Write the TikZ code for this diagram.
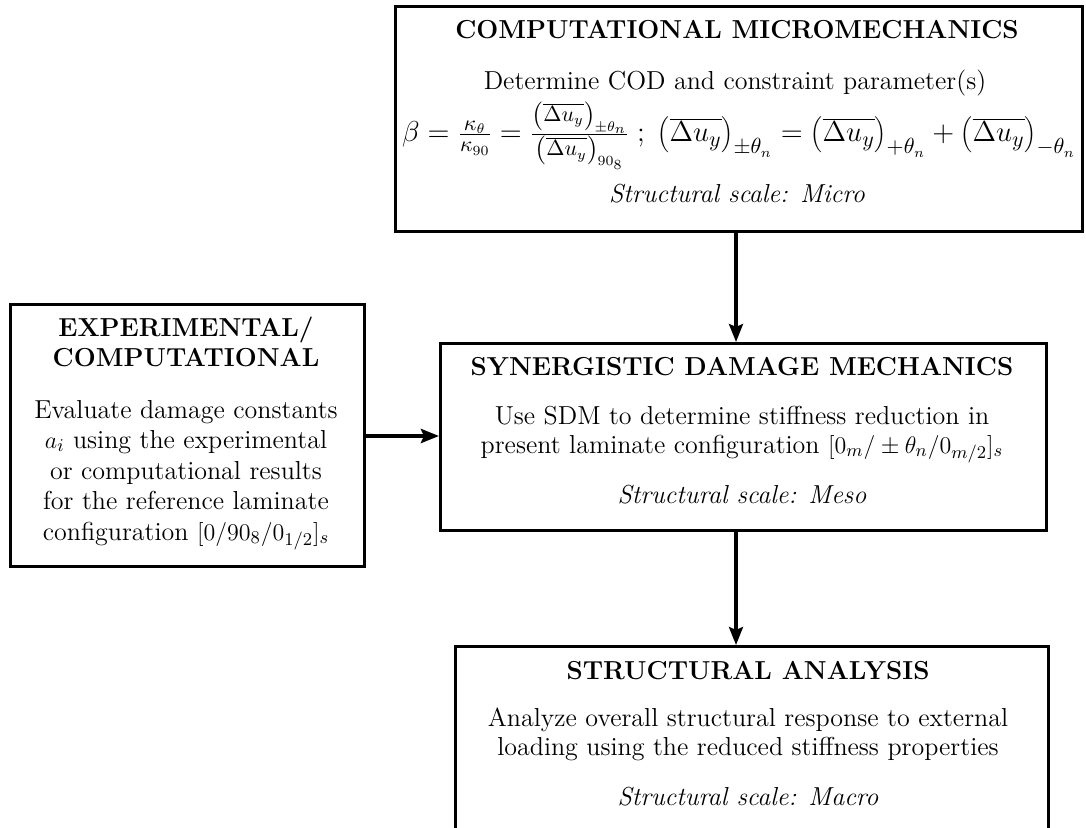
\documentclass[tikz,border=0pt]{standalone}
\usetikzlibrary{arrows.meta}
\begin{document}
\begin{tikzpicture}[x=0.5pt,y=-0.5pt,
  box/.style={draw,line width=1.3pt,inner sep=0pt,anchor=north west},
  arr/.style={line width=1.6pt,-{Stealth[length=9pt,width=7pt,inset=1.5pt]}},
  harr/.style={line width=2.4pt,-{Stealth[length=9pt,width=7pt,inset=1.5pt]}},
  ttl/.style={font=\fontsize{13}{15}\selectfont\bfseries,align=center,inner sep=0pt},
  txt/.style={font=\fontsize{13}{15}\selectfont,align=center,inner sep=0pt},
  eqn/.style={font=\fontsize{15}{17}\selectfont,inner sep=0pt}]
\useasboundingbox (0,0) rectangle (1086,828);
\clip (0,0) rectangle (1086,828);
% boxes
\node[box,minimum width=343.5pt,minimum height=112.5pt] (top) at (394,5) {};
\node[box,minimum width=177pt,minimum height=131pt] (left) at (9,303) {};
\node[box,minimum width=303pt,minimum height=93.5pt] (mid) at (439,342) {};
\node[box,minimum width=296.5pt,minimum height=100pt] (bot) at (454,645) {};
% top box text
\node[ttl,anchor=base] (t1) at (737,39) {COMPUTATIONAL MICROMECHANICS};
\node[txt,anchor=base] (t2) at (735,90) {Determine COD and constraint parameter(s)};
\node[eqn,anchor=base] (t3) at (739,142) {$\beta=\frac{\kappa_\theta}{\kappa_{90}}=\frac{\left(\overline{\Delta u_y}\right)_{\pm\theta_n}}{\left(\overline{\Delta u_y}\right)_{90_8}}\;;\;\left(\overline{\Delta u_y}\right)_{\pm\theta_n}=\left(\overline{\Delta u_y}\right)_{+\theta_n}+\left(\overline{\Delta u_y}\right)_{-\theta_n}$};
\node[txt,anchor=base] (t4) at (737,203) {\textit{Structural scale: Micro}};
% left box text
\node[ttl,anchor=base] (l1) at (186,336) {EXPERIMENTAL/};
\node[ttl,anchor=base] (l2) at (186,366) {COMPUTATIONAL};
\node[txt,anchor=base] (l3) at (186,418) {Evaluate damage constants};
\node[txt,anchor=base] (l4) at (186,448) {$a_i$ using the experimental};
\node[txt,anchor=base] (l5) at (186,479) {or computational results};
\node[txt,anchor=base] (l6) at (186,509) {for the reference laminate};
\node[txt,anchor=base] (l7) at (186,540) {configuration $[0/90_8/0_{1/2}]_s$};
% middle box text
\node[ttl,anchor=base] (m1) at (742,376) {SYNERGISTIC DAMAGE MECHANICS};
\node[txt,anchor=base] (m2) at (742,424) {Use SDM to determine stiffness reduction in};
\node[txt,anchor=base] (m3) at (742,453) {present laminate configuration $[0_m/\pm\theta_n/0_{m/2}]_s$};
\node[txt,anchor=base] (m4) at (742,503) {\textit{Structural scale: Meso}};
% bottom box text
\node[ttl,anchor=base] (b1) at (748,679) {STRUCTURAL ANALYSIS};
\node[txt,anchor=base] (b2) at (748,726) {Analyze overall structural response to external};
\node[txt,anchor=base] (b3) at (748,755) {loading using the reduced stiffness properties};
\node[txt,anchor=base] (b4) at (748,805) {\textit{Structural scale: Macro}};
% connectors
\coordinate (ax) at (736,0);
\draw[arr] (top.south -| ax) -- (mid.north -| ax);
\draw[arr] (mid.south -| ax) -- (bot.north -| ax);
\draw[harr] (left.east |- 0,436) -- (mid.west |- 0,436);
\end{tikzpicture}
\end{document}
